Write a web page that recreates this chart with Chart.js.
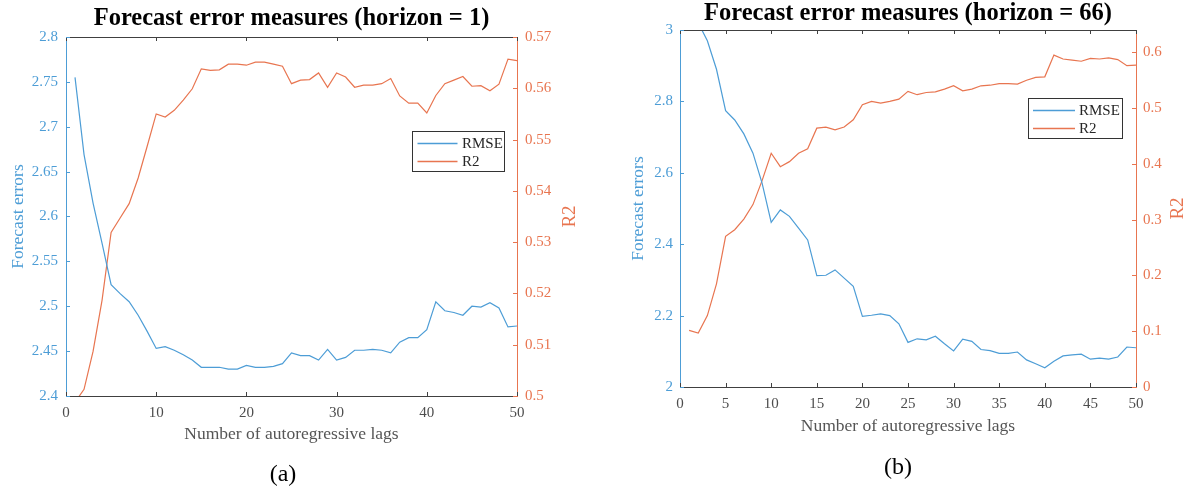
<!DOCTYPE html>
<html>
<head>
<meta charset="utf-8">
<script src="https://cdn.jsdelivr.net/npm/chart.js@4.4.0/dist/chart.umd.min.js"></script>
<style>
  html, body { margin: 0; padding: 0; background: #fff; }
  body { width: 1196px; height: 490px; position: relative; overflow: hidden; font-family: 'Liberation Serif', serif; }
  .panel { position: absolute; top: 0; height: 490px; }
  .panel canvas { display: block; }
  .cap { position: absolute; font-size: 24px; line-height: 1; color: #000; transform: translate(-50%, -50%); white-space: nowrap; }
</style>
</head>
<body>
<div class="panel" style="left:0;width:600px"><canvas id="chartH1" width="600" height="490"></canvas></div>
<div class="panel" style="left:600px;width:596px"><canvas id="chartH66" width="596" height="490"></canvas></div>
<div class="cap" style="left:283px;top:473px">(a)</div>
<div class="cap" style="left:898px;top:466px">(b)</div>

<script>
// Number of autoregressive lags (shared x values)
const lags = [1, 2, 3, 4, 5, 6, 7, 8, 9, 10, 11, 12, 13, 14, 15, 16, 17, 18, 19, 20,
              21, 22, 23, 24, 25, 26, 27, 28, 29, 30, 31, 32, 33, 34, 35, 36, 37, 38, 39, 40,
              41, 42, 43, 44, 45, 46, 47, 48, 49, 50];

// Horizon = 1
const rmseH1 = [2.755, 2.669, 2.615, 2.570, 2.524, 2.514, 2.505, 2.490, 2.472, 2.453,
                2.455, 2.451, 2.446, 2.440, 2.432, 2.432, 2.432, 2.430, 2.430, 2.434,
                2.432, 2.432, 2.433, 2.436, 2.448, 2.445, 2.445, 2.440, 2.452, 2.440,
                2.443, 2.451, 2.451, 2.452, 2.451, 2.448, 2.460, 2.465, 2.465, 2.474,
                2.505, 2.495, 2.493, 2.490, 2.500, 2.499, 2.504, 2.498, 2.477, 2.478];
const r2H1 = [0.4988, 0.5013, 0.5087, 0.5187, 0.5319, 0.5347, 0.5375, 0.5425, 0.5487, 0.5550,
              0.5544, 0.5557, 0.5577, 0.5599, 0.5638, 0.5635, 0.5636, 0.5647, 0.5647, 0.5645,
              0.5651, 0.5651, 0.5647, 0.5643, 0.5609, 0.5616, 0.5617, 0.5630, 0.5602, 0.5630,
              0.5622, 0.5602, 0.5606, 0.5606, 0.5609, 0.5619, 0.5585, 0.5571, 0.5571, 0.5552,
              0.5586, 0.5609, 0.5616, 0.5623, 0.5604, 0.5605, 0.5595, 0.5608, 0.5657, 0.5654];

// Horizon = 66
const rmseH66 = [3.080, 3.020, 2.970, 2.890, 2.774, 2.748, 2.709, 2.655, 2.571, 2.461,
                 2.496, 2.478, 2.445, 2.412, 2.312, 2.313, 2.328, 2.305, 2.282, 2.198,
                 2.201, 2.205, 2.200, 2.177, 2.125, 2.135, 2.132, 2.142, 2.121, 2.101,
                 2.134, 2.128, 2.105, 2.102, 2.094, 2.094, 2.098, 2.076, 2.065, 2.054,
                 2.072, 2.087, 2.090, 2.092, 2.078, 2.081, 2.078, 2.084, 2.112, 2.110];
const r2H66 = [0.1015, 0.0967, 0.128, 0.185, 0.270, 0.282, 0.301, 0.327, 0.370, 0.419,
               0.395, 0.404, 0.419, 0.427, 0.464, 0.466, 0.461, 0.466, 0.479, 0.506,
               0.512, 0.509, 0.512, 0.516, 0.530, 0.524, 0.528, 0.529, 0.534, 0.540,
               0.531, 0.534, 0.540, 0.541, 0.544, 0.544, 0.543, 0.550, 0.555, 0.556,
               0.595, 0.588, 0.586, 0.584, 0.589, 0.588, 0.590, 0.587, 0.576, 0.577];

// Tick values
const xTicksH1 = [0, 10, 20, 30, 40, 50];
const rmseTicksH1 = [2.4, 2.45, 2.5, 2.55, 2.6, 2.65, 2.7, 2.75, 2.8];
const r2TicksH1 = [0.5, 0.51, 0.52, 0.53, 0.54, 0.55, 0.56, 0.57];
const xTicksH66 = [0, 5, 10, 15, 20, 25, 30, 35, 40, 45, 50];
const rmseTicksH66 = [2, 2.2, 2.4, 2.6, 2.8, 3];
const r2TicksH66 = [0, 0.1, 0.2, 0.3, 0.4, 0.5, 0.6];

const BLUE = 'rgb(77,157,214)';
const ORANGE = 'rgb(232,117,80)';
const FRAME = '#404040';
const SERIF = "'Liberation Serif', 'Times New Roman', serif";

Chart.defaults.font.family = SERIF;

// MATLAB-style box: top frame line plus inward tick marks on every side,
// and the right axis label written bottom-to-top.
const axisDecor = {
  id: 'axisDecor',
  afterDraw(chart, args, o) {
    const { ctx, chartArea: a, scales } = chart;
    const L = o.tickLen;
    ctx.save();
    ctx.lineWidth = 1;
    ctx.strokeStyle = FRAME;
    ctx.beginPath();
    ctx.moveTo(a.left, Math.round(a.top) + 0.5);
    ctx.lineTo(a.right, Math.round(a.top) + 0.5);
    ctx.stroke();
    ctx.beginPath();
    scales.x.ticks.forEach(t => {
      const px = Math.round(scales.x.getPixelForValue(t.value)) + 0.5;
      ctx.moveTo(px, a.bottom); ctx.lineTo(px, a.bottom - L);
      ctx.moveTo(px, a.top); ctx.lineTo(px, a.top + L);
    });
    ctx.stroke();
    ctx.strokeStyle = BLUE;
    ctx.beginPath();
    scales.yL.ticks.forEach(t => {
      const py = Math.round(scales.yL.getPixelForValue(t.value)) + 0.5;
      ctx.moveTo(a.left, py); ctx.lineTo(a.left + L, py);
    });
    ctx.stroke();
    ctx.strokeStyle = ORANGE;
    ctx.beginPath();
    scales.yR.ticks.forEach(t => {
      const py = Math.round(scales.yR.getPixelForValue(t.value)) + 0.5;
      ctx.moveTo(a.right, py); ctx.lineTo(a.right - L, py);
    });
    ctx.stroke();
    // right axis title
    const rt = o.rightTitle;
    ctx.translate(scales.yR.right - rt.offset, (a.top + a.bottom) / 2);
    ctx.rotate(-Math.PI / 2);
    ctx.fillStyle = ORANGE;
    ctx.font = rt.size + 'px ' + SERIF;
    ctx.textAlign = 'center';
    ctx.textBaseline = 'middle';
    ctx.fillText(rt.text, 0, 0);
    ctx.restore();
  }
};

// Framed legend placed inside the plot area
const boxLegend = {
  id: 'boxLegend',
  afterDraw(chart, args, o) {
    const { ctx, chartArea: a } = chart;
    const left = Math.round(a.right - o.right - o.width);
    const top = Math.round(a.top + o.top);
    ctx.save();
    ctx.fillStyle = '#fff';
    ctx.fillRect(left, top, o.width, o.height);
    ctx.strokeStyle = '#333';
    ctx.lineWidth = 1;
    ctx.strokeRect(left + 0.5, top + 0.5, o.width, o.height);
    ctx.font = '15px ' + SERIF;
    ctx.textBaseline = 'middle';
    ctx.textAlign = 'left';
    chart.data.datasets.forEach((ds, i) => {
      const y = Math.round(top + o.rowTop + i * o.rowGap) + 0.5;
      ctx.strokeStyle = ds.borderColor;
      ctx.lineWidth = 1.4;
      ctx.beginPath();
      ctx.moveTo(left + o.sampleStart, y);
      ctx.lineTo(left + o.sampleStart + o.sampleLen, y);
      ctx.stroke();
      ctx.fillStyle = '#262626';
      ctx.fillText(ds.label, left + o.textStart, y + 1);
    });
    ctx.restore();
  }
};

const fixedTicks = arr => scale => { scale.ticks = arr.map(v => ({ value: v })); };
const tickText = v => String(Math.round(v * 10000) / 10000);

function buildChart(id, s) {
  return new Chart(document.getElementById(id), {
    type: 'line',
    data: {
      datasets: [
        { label: 'RMSE', data: lags.map((k, i) => ({ x: k, y: s.rmse[i] })), yAxisID: 'yL',
          borderColor: BLUE, borderWidth: 1.2, pointRadius: 0, tension: 0, fill: false },
        { label: 'R2', data: lags.map((k, i) => ({ x: k, y: s.r2[i] })), yAxisID: 'yR',
          borderColor: ORANGE, borderWidth: 1.2, pointRadius: 0, tension: 0, fill: false }
      ]
    },
    options: {
      responsive: false,
      animation: false,
      events: [],
      layout: { padding: { left: 0, right: 0, top: 0, bottom: s.padBottom } },
      scales: {
        x: {
          type: 'linear', position: 'bottom', min: 0, max: 50,
          afterBuildTicks: fixedTicks(s.xTicks),
          afterFit: sc => { sc.height = 50; },
          ticks: { color: '#4d4d4d', padding: 8, font: { size: 15 }, maxRotation: 0, callback: tickText },
          grid: { drawOnChartArea: false, drawTicks: false },
          border: { color: FRAME, width: 1 },
          title: { display: true, text: 'Number of autoregressive lags', color: '#555',
                   font: { size: 17.5, lineHeight: 1.2 }, padding: { top: 0, bottom: s.xTitlePad } }
        },
        yL: {
          type: 'linear', position: 'left', min: s.rmseMin, max: s.rmseMax,
          afterBuildTicks: fixedTicks(s.rmseTicks),
          afterFit: sc => { sc.width = s.leftW; },
          ticks: { color: BLUE, padding: s.tickPadL, font: { size: 15 }, callback: tickText },
          grid: { drawOnChartArea: false, drawTicks: false },
          border: { color: BLUE, width: 1 },
          title: { display: true, text: 'Forecast errors', color: BLUE,
                   font: { size: 17.5, lineHeight: 1.2 }, padding: { top: s.leftTitlePad, bottom: 0 } }
        },
        yR: {
          type: 'linear', position: 'right', min: s.r2Min, max: s.r2Max,
          afterBuildTicks: fixedTicks(s.r2Ticks),
          afterFit: sc => { sc.width = s.rightW; },
          ticks: { color: ORANGE, padding: s.tickPadR, font: { size: 15 }, callback: tickText },
          grid: { drawOnChartArea: false, drawTicks: false },
          border: { color: ORANGE, width: 1 }
        }
      },
      plugins: {
        legend: { display: false },
        tooltip: { enabled: false },
        title: {
          display: true, text: s.title, fullSize: false, color: '#000',
          font: { size: 24.5, weight: 'bold', lineHeight: 1.1 },
          padding: s.titlePad
        },
        axisDecor: { tickLen: 4, rightTitle: { text: 'R2', size: 19, offset: s.rightTitleOffset } },
        boxLegend: s.legend
      }
    },
    plugins: [axisDecor, boxLegend]
  });
}

buildChart('chartH1', {
  title: 'Forecast error measures (horizon = 1)',
  rmse: rmseH1, r2: r2H1,
  xTicks: xTicksH1, rmseTicks: rmseTicksH1, r2Ticks: r2TicksH1,
  rmseMin: 2.4, rmseMax: 2.8, r2Min: 0.5, r2Max: 0.57,
  leftW: 66, rightW: 83, tickPadL: 8, tickPadR: 8,
  leftTitlePad: 7.5, rightTitleOffset: 30,
  titlePad: { top: 5.5, bottom: 4.55 },
  padBottom: 44, xTitlePad: 1,
  legend: { right: 13, top: 94, width: 92, height: 40, rowTop: 11.5, rowGap: 18,
            sampleStart: 5.5, sampleLen: 40, textStart: 50 }
});

buildChart('chartH66', {
  title: 'Forecast error measures (horizon = 66)',
  rmse: rmseH66, r2: r2H66,
  xTicks: xTicksH66, rmseTicks: rmseTicksH66, r2Ticks: r2TicksH66,
  rmseMin: 2, rmseMax: 3, r2Min: 0, r2Max: 0.64,
  leftW: 80, rightW: 60, tickPadL: 7, tickPadR: 7,
  leftTitlePad: 28, rightTitleOffset: 18,
  titlePad: { top: 0, bottom: 3.05 },
  padBottom: 53, xTitlePad: 0,
  legend: { right: 14, top: 68, width: 94, height: 40, rowTop: 12, rowGap: 18,
            sampleStart: 5, sampleLen: 42, textStart: 51 }
});
</script>
</body>
</html>
